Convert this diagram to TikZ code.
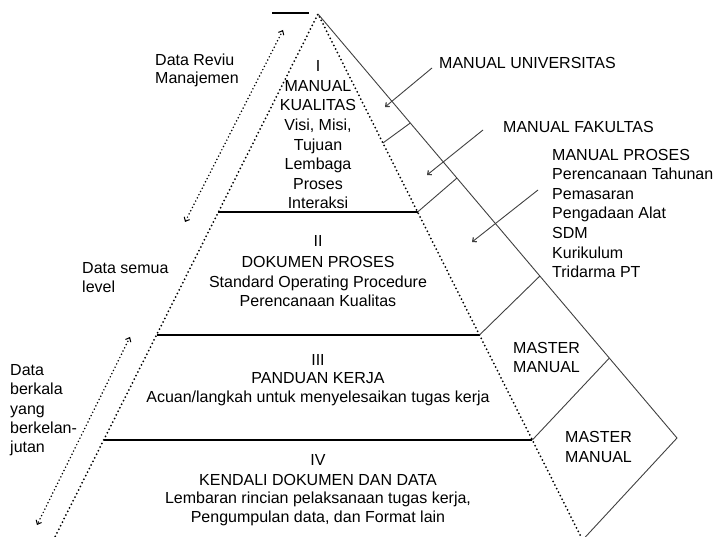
\documentclass[tikz,border=0pt]{standalone}
\usepackage{fontspec}
\setmainfont{Liberation Sans}
\usetikzlibrary{arrows.meta}

\begin{document}
\begin{tikzpicture}[x=1pt,y=-1pt,
  txt/.style={font=\fontsize{16}{19}\selectfont, inner sep=0pt, anchor=base},
  txtl/.style={txt, anchor=base west},
  dotline/.style={line width=2pt, dash pattern=on 0pt off 4pt, line cap=round},
  flowdots/.style={line width=1.7pt, dash pattern=on 0pt off 3.6pt, line cap=round,
    {Straight Barb[length=3.5pt,width=6pt,line width=1pt]}-{Straight Barb[length=3.5pt,width=6pt,line width=1pt]}},
  divider/.style={line width=1.8pt, black},
  thin/.style={line width=0.9pt, black!75},
  pointer/.style={thin, -{Straight Barb[length=3pt,width=5.5pt,line width=1.2pt]}}
]
\useasboundingbox (0,0) rectangle (718,537);

% pyramid outline
\coordinate (apex) at (318,14);
\coordinate (bl) at (53.4,540);
\coordinate (br) at (582.6,540);
\coordinate (tip) at (677,438);

% level dividers, ends on the pyramid sides
\coordinate (d1l) at (218.4,212);  \coordinate (d1r) at (417.6,212);
\coordinate (d2l) at (156.5,335);  \coordinate (d2r) at (479.5,335);
\coordinate (d3l) at (103.7,440);  \coordinate (d3r) at (532.3,440);

% cross lines of the outer band
\coordinate (c1a) at (382.9,143); \coordinate (c1b) at (410.3,123);
\coordinate (c2b) at (457,178);
\coordinate (c3b) at (539.9,276);
\coordinate (c4b) at (609.4,358);

\draw[dotline] (bl) -- (apex) -- (br);
\draw[divider] (272,13) -- (309,13);
\draw[divider] (d1l) -- (d1r);
\draw[divider] (d2l) -- (d2r);
\draw[divider] (d3l) -- (d3r);

\draw[thin] (apex) -- (tip) -- (br);
\draw[thin] (c1a) -- (c1b);
\draw[thin] (d1r) -- (c2b);
\draw[thin] (d2r) -- (c3b);
\draw[thin] (d3r) -- (c4b);

% level I
\node[txt] (l1a) at (318,71.7) {I};
\node[txt] (l1b) at (318,91.3) {MANUAL};
\node[txt] (l1c) at (318,110.9) {KUALITAS};
\node[txt] (l1d) at (318,130.5) {Visi, Misi,};
\node[txt] (l1e) at (318,150.1) {Tujuan};
\node[txt] (l1f) at (318,169.7) {Lembaga};
\node[txt] (l1g) at (318,189.3) {Proses};
\node[txt] (l1h) at (318,208.9) {Interaksi};

% level II
\node[txt] (l2a) at (318,246.5) {II};
\node[txt] (l2b) at (318,267.7) {DOKUMEN PROSES};
\node[txt] (l2c) at (318,287.5) {Standard Operating Procedure};
\node[txt] (l2d) at (318,306.5) {Perencanaan Kualitas};

% level III
\node[txt] (l3a) at (318,365.7) {III};
\node[txt] (l3b) at (318,383.7) {PANDUAN KERJA};
\node[txt] (l3c) at (318,402.5) {Acuan/langkah untuk menyelesaikan tugas kerja};

% level IV
\node[txt] (l4a) at (318,465.7) {IV};
\node[txt] (l4b) at (318,485.7) {KENDALI DOKUMEN DAN DATA};
\node[txt] (l4c) at (318,503.5) {Lembaran rincian pelaksanaan tugas kerja,};
\node[txt] (l4d) at (318,522.5) {Pengumpulan data, dan Format lain};

% manuals on the right
\node[txtl] (muniv) at (439,68.7) {MANUAL UNIVERSITAS};
\node[txtl] (mfak) at (503,132.7) {MANUAL FAKULTAS};
\node[txtl] (mp1) at (552,160.2) {MANUAL PROSES};
\node[txtl] (mp2) at (552,179.8) {Perencanaan Tahunan};
\node[txtl] (mp3) at (552,199.4) {Pemasaran};
\node[txtl] (mp4) at (552,219) {Pengadaan Alat};
\node[txtl] (mp5) at (552,238.6) {SDM};
\node[txtl] (mp6) at (552,258.2) {Kurikulum};
\node[txtl] (mp7) at (552,277.8) {Tridarma PT};
\node[txtl] (mm1a) at (513,353.7) {MASTER};
\node[txtl] (mm1b) at (513,372.7) {MANUAL};
\node[txtl] (mm2a) at (565,442.7) {MASTER};
\node[txtl] (mm2b) at (565,462.7) {MANUAL};

\coordinate (p1s) at (432,68);  \coordinate (p1e) at (385,107);
\coordinate (p2s) at (483,130); \coordinate (p2e) at (427,175);
\coordinate (p3s) at (538,190); \coordinate (p3e) at (472,242);
\draw[pointer] (p1s) -- (p1e);
\draw[pointer] (p2s) -- (p2e);
\draw[pointer] (p3s) -- (p3e);

% data flow on the left
\node[txtl] (dr1) at (155,65.7) {Data Reviu};
\node[txtl] (dr2) at (155,84) {Manajemen};
\node[txtl] (ds1) at (82,273.7) {Data semua};
\node[txtl] (ds2) at (82,292.7) {level};
\node[txtl] (db1) at (10,375.5) {Data};
\node[txtl] (db2) at (10,394.5) {berkala};
\node[txtl] (db3) at (10,414) {yang};
\node[txtl] (db4) at (10,433) {berkelan-};
\node[txtl] (db5) at (10,452) {jutan};

\coordinate (f1a) at (283,30);  \coordinate (f1b) at (185,222);
\coordinate (f2a) at (130,337); \coordinate (f2b) at (37,525);
\draw[flowdots] (f1a) -- (f1b);
\draw[flowdots] (f2a) -- (f2b);
\end{tikzpicture}
\end{document}
